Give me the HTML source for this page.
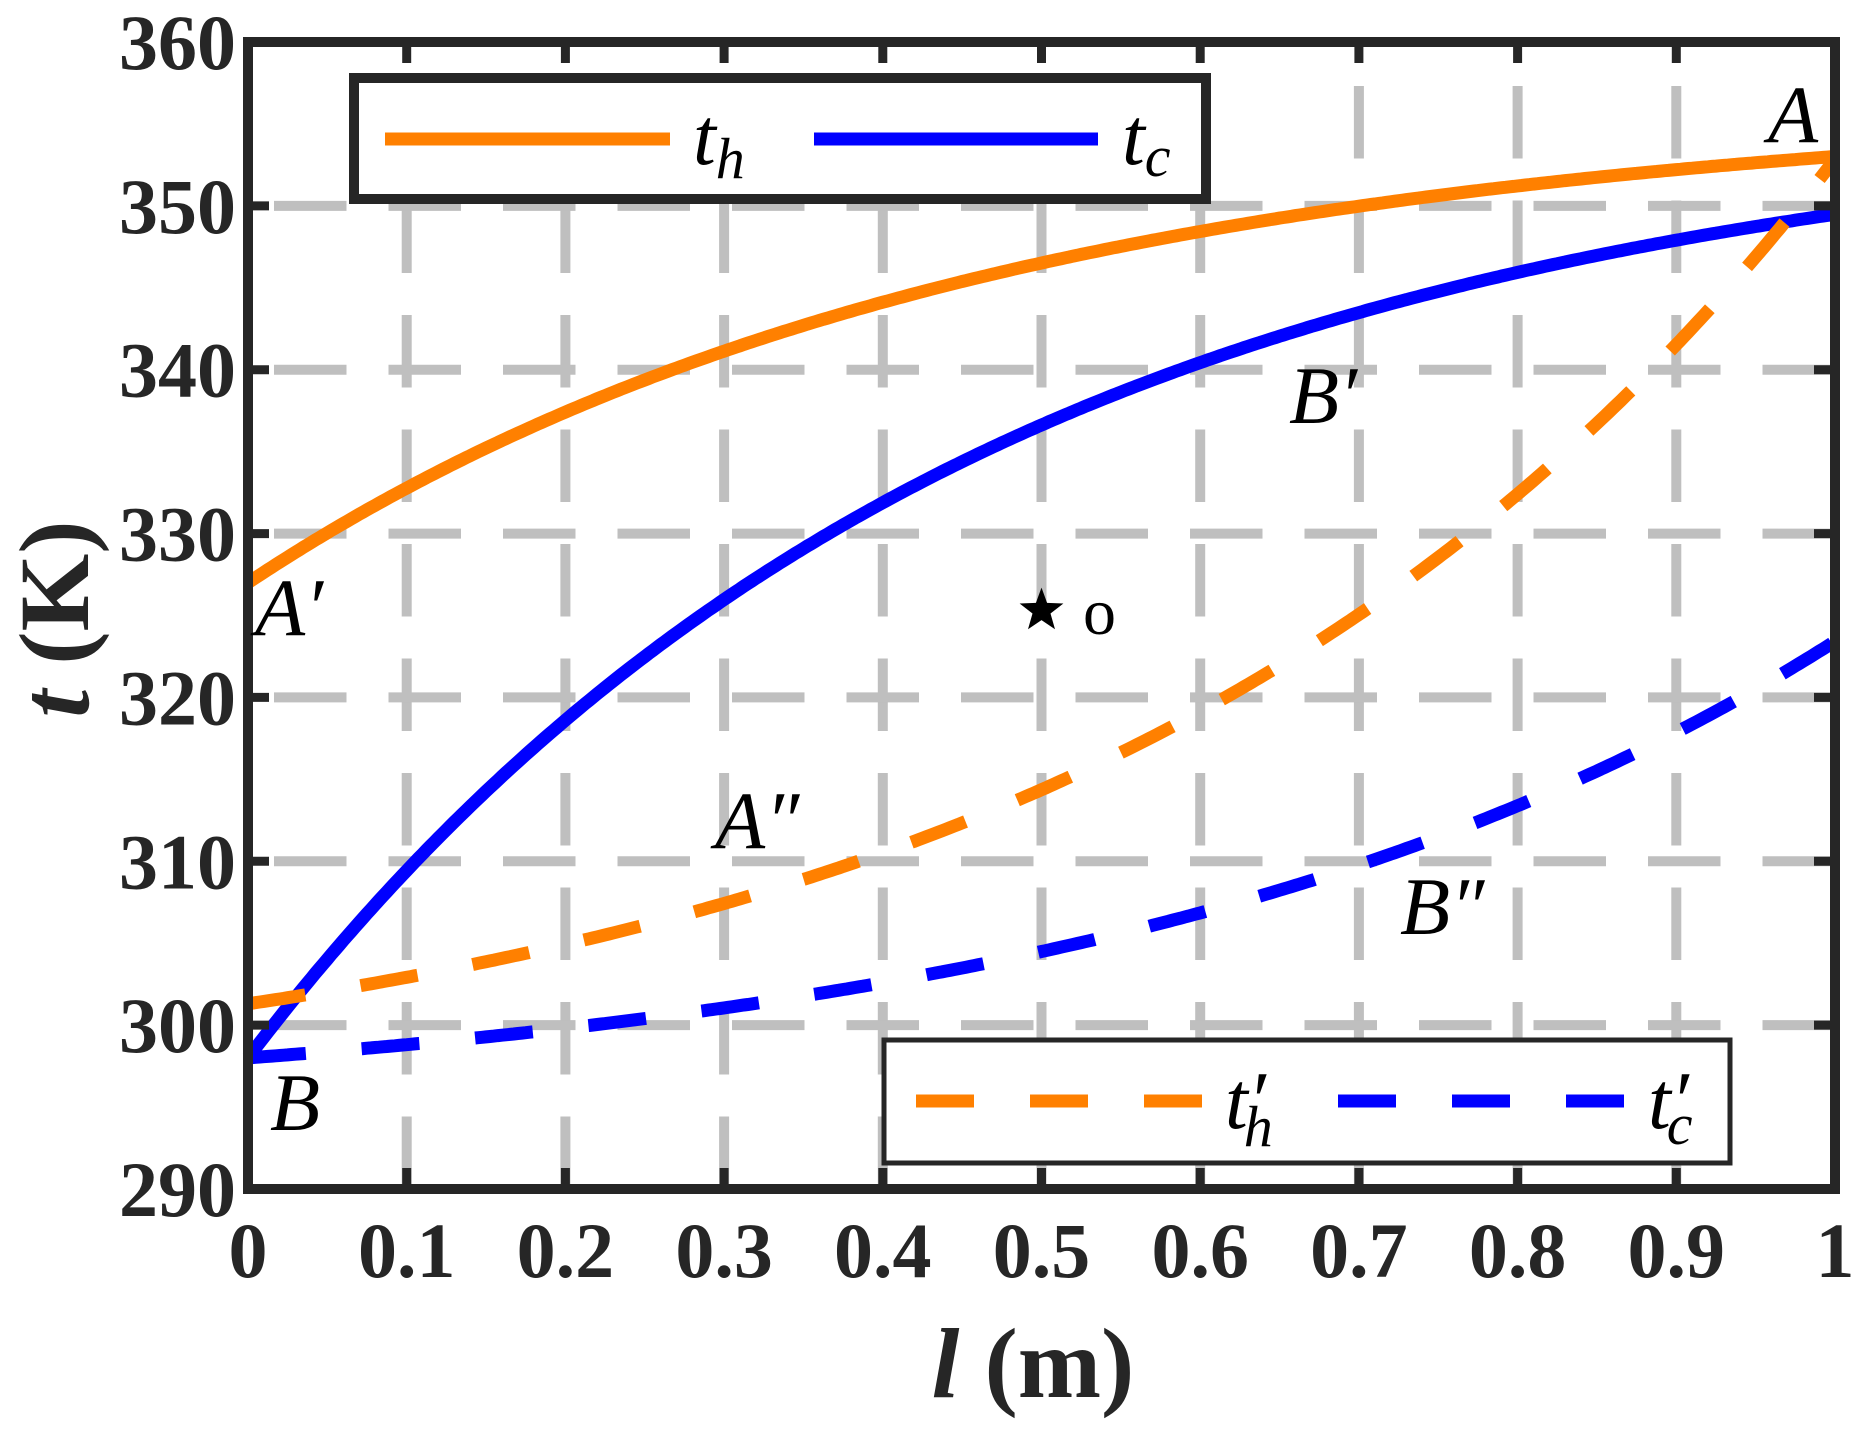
<!DOCTYPE html>
<html><head><meta charset="utf-8">
<style>
html,body{margin:0;padding:0;background:#fff;overflow:hidden;}
svg{display:block;}
.tk{font-family:"Liberation Serif",serif;font-weight:bold;font-size:78px;fill:#262626;}
.it{font-family:"Liberation Serif",serif;font-style:italic;font-size:82px;fill:#000;}
</style></head>
<body>
<svg id="s" width="1876" height="1431" viewBox="0 0 1876 1431" xmlns="http://www.w3.org/2000/svg">
<g id="grid" stroke="#bfbfbf" stroke-width="10" fill="none" stroke-dasharray="72.5 42"></g>
<g id="curves" fill="none" stroke-width="13"></g>
<rect x="248" y="42" width="1587" height="1147" fill="none" stroke="#262626" stroke-width="10"/>
<g id="ticks" stroke="#262626" stroke-width="9"></g>
<g id="labels"></g>
<text class="it" x="1768" y="142">A</text>
<text class="it" x="255" y="635">A′</text>
<text class="it" x="270" y="1130">B</text>
<text class="it" x="1289" y="423">B′</text>
<text class="it" x="715" y="848">A″</text>
<text class="it" x="1400" y="934">B″</text>
<polygon id="star" fill="#000"/>
<text x="1083" y="634" font-family="Liberation Serif,serif" font-size="66" fill="#000">o</text>
<rect x="354" y="78" width="852" height="121" fill="#fff" stroke="#262626" stroke-width="10"/>
<line x1="385" y1="139" x2="670" y2="139" stroke="#ff8000" stroke-width="13"/>
<text class="it" x="693" y="164">t<tspan font-size="58" dy="14">h</tspan></text>
<line x1="814" y1="139" x2="1098" y2="139" stroke="#0000ff" stroke-width="13"/>
<text class="it" x="1122" y="164">t<tspan font-size="58" dy="12">c</tspan></text>
<rect x="884" y="1040" width="846" height="123" fill="#fff" stroke="#262626" stroke-width="5"/>
<line x1="916" y1="1101" x2="1206" y2="1101" stroke="#ff8000" stroke-width="13" stroke-dasharray="58 56"/>
<text class="it" x="1225" y="1128">t′<tspan font-size="58" dx="-22" dy="18">h</tspan></text>
<line x1="1338" y1="1101" x2="1632" y2="1101" stroke="#0000ff" stroke-width="13" stroke-dasharray="58 56"/>
<text class="it" x="1648" y="1128">t′<tspan font-size="58" dx="-22" dy="16">c</tspan></text>
<text x="1033" y="1397" text-anchor="middle" font-family="Liberation Serif,serif" font-weight="bold" font-size="100" fill="#262626"><tspan font-style="italic">l</tspan> (m)</text>
<text transform="translate(88,619) rotate(-90)" text-anchor="middle" font-family="Liberation Serif,serif" font-weight="bold" font-size="100" fill="#262626"><tspan font-style="italic">t</tspan> (K)</text>
</svg>
<script>
(function(){
var NS="http://www.w3.org/2000/svg";
function X(x){return 248+1587*x;}
function Y(t){return 42+(360-t)*16.3857;}
function el(parent,tag,attrs,txt){var e=document.createElementNS(NS,tag);for(var k in attrs)e.setAttribute(k,attrs[k]);if(txt!==undefined)e.textContent=txt;document.getElementById(parent).appendChild(e);return e;}
for(var i=1;i<10;i++){var x=X(i/10);el("grid","line",{x1:x,y1:1189,x2:x,y2:42});}
for(var t=300;t<=350;t+=10){var y=Y(t);el("grid","line",{x1:1835,y1:y,x2:248,y2:y});}
for(var i=1;i<10;i++){var x=X(i/10);el("ticks","line",{x1:x,y1:1189,x2:x,y2:1168});el("ticks","line",{x1:x,y1:42,x2:x,y2:63});}
for(var t=300;t<=350;t+=10){var y=Y(t);el("ticks","line",{x1:248,y1:y,x2:269,y2:y});el("ticks","line",{x1:1835,y1:y,x2:1814,y2:y});}
for(var i=0;i<=10;i++){var s=(i==0)?"0":(i==10?"1":"0."+i);el("labels","text",{"class":"tk",x:X(i/10),y:1277,"text-anchor":"middle"},s);}
for(var t=290;t<=360;t+=10){el("labels","text",{"class":"tk",x:236,y:Y(t)+27,"text-anchor":"end"},String(t));}
function path(f,color,dash){var d="";for(var k=0;k<=400;k++){var x=k/400;d+=(k?"L":"M")+X(x).toFixed(1)+" "+Y(f(x)).toFixed(1);}var a={d:d,stroke:color};if(dash)a["stroke-dasharray"]=dash;el("curves","path",a);}
path(function(x){return 327+29.25*(1-Math.exp(-2.2*x));},"#ff8000");
path(function(x){return 298+57.9*(1-Math.exp(-2.2*x));},"#0000ff");
path(function(x){return 301.3+6.72*(Math.exp(2.16*x)-1);},"#ff8000","58 56");
path(function(x){return 298+3.39*(Math.exp(2.14*x)-1);},"#0000ff","58 56");
// star
var cx=X(0.5),cy=Y(325.3),R=23,r=9.5,pts=[];
for(var k=0;k<10;k++){var a=-Math.PI/2+k*Math.PI/5,rr=(k%2?r:R);pts.push((cx+rr*Math.cos(a)).toFixed(1)+","+(cy+rr*Math.sin(a)).toFixed(1));}
document.getElementById("star").setAttribute("points",pts.join(" "));
})();
</script>
</body></html>
